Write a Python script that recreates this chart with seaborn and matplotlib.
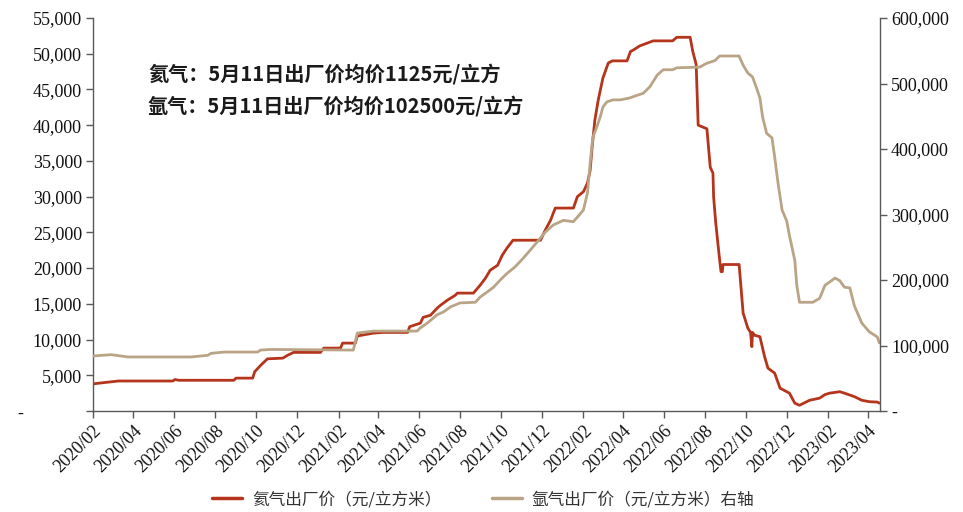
import matplotlib
matplotlib.use("Agg")
import matplotlib.pyplot as plt
import matplotlib.dates as mdates
import matplotlib.ticker as mticker
from matplotlib.lines import Line2D
import seaborn as sns
import pandas as pd

# 氦气出厂价（元/立方米），左轴
he_dates = ['2020-02-01', '2020-02-20', '2020-03-10', '2020-05-30', '2020-06-02', '2020-06-08',
            '2020-08-29', '2020-09-01', '2020-09-26', '2020-09-29', '2020-10-08', '2020-10-18',
            '2020-11-10', '2020-11-17', '2020-11-26', '2021-01-05', '2021-01-10', '2021-02-04',
            '2021-02-07', '2021-02-26', '2021-03-01', '2021-03-25', '2021-04-09', '2021-05-15',
            '2021-05-18', '2021-06-03', '2021-06-07', '2021-06-18', '2021-06-28', '2021-07-03',
            '2021-07-13', '2021-07-25', '2021-07-28', '2021-08-21', '2021-08-31', '2021-09-08',
            '2021-09-15', '2021-09-26', '2021-10-03', '2021-10-10', '2021-10-19', '2021-11-29',
            '2021-12-06', '2021-12-14', '2021-12-21', '2022-01-17', '2022-01-23', '2022-02-01',
            '2022-02-07', '2022-02-11', '2022-02-14', '2022-02-18', '2022-02-23', '2022-03-02',
            '2022-03-10', '2022-03-16', '2022-04-07', '2022-04-12', '2022-04-16', '2022-04-26',
            '2022-05-16', '2022-06-14', '2022-06-20', '2022-07-10', '2022-07-14', '2022-07-19',
            '2022-07-22', '2022-08-04', '2022-08-09', '2022-08-13', '2022-08-14', '2022-08-17',
            '2022-08-22', '2022-08-25', '2022-08-27', '2022-08-28', '2022-09-21', '2022-09-27',
            '2022-10-04', '2022-10-08', '2022-10-10', '2022-10-11', '2022-10-14', '2022-10-22',
            '2022-10-29', '2022-11-03', '2022-11-13', '2022-11-21', '2022-12-05', '2022-12-13',
            '2022-12-20', '2023-01-04', '2023-01-19', '2023-01-27', '2023-02-03', '2023-02-18',
            '2023-02-25', '2023-03-12', '2023-03-23', '2023-04-03', '2023-04-15', '2023-04-18']
he_price = [3800, 4000, 4200, 4200, 4400, 4300,
            4300, 4600, 4600, 5500, 6400, 7300,
            7400, 7800, 8200, 8200, 8800, 8800,
            9500, 9500, 10500, 10900, 11000, 11000,
            11800, 12300, 13100, 13400, 14400, 14800,
            15500, 16200, 16500, 16500, 17600, 18600,
            19700, 20400, 21800, 22800, 23900, 23900,
            25300, 26700, 28400, 28400, 30000, 30700,
            31900, 33700, 37000, 40700, 43500, 46600,
            48700, 49000, 49000, 50300, 50500, 51100,
            51800, 51800, 52300, 52300, 50300, 48500,
            40000, 39500, 34100, 33300, 30000, 26500,
            22000, 19500, 19500, 20500, 20500, 13700,
            11600, 11000, 9000, 11000, 10600, 10400,
            7600, 6000, 5300, 3200, 2500, 1100,
            800, 1500, 1800, 2300, 2500, 2700,
            2500, 2000, 1500, 1300, 1250, 1100]

# 氩气出厂价（元/立方米），右轴
ar_dates = ['2020-02-01', '2020-02-28', '2020-03-24', '2020-06-26', '2020-07-21', '2020-07-26',
            '2020-08-14', '2020-10-03', '2020-10-08', '2020-10-23', '2021-02-23', '2021-03-01',
            '2021-03-25', '2021-05-29', '2021-06-03', '2021-06-13', '2021-06-28', '2021-07-07',
            '2021-07-18', '2021-08-01', '2021-08-24', '2021-08-31', '2021-09-11', '2021-09-20',
            '2021-09-30', '2021-10-10', '2021-10-22', '2021-11-03', '2021-11-14', '2021-11-24',
            '2021-12-06', '2021-12-18', '2022-01-02', '2022-01-17', '2022-01-23', '2022-02-01',
            '2022-02-07', '2022-02-11', '2022-02-15', '2022-02-21', '2022-02-26', '2022-03-02',
            '2022-03-08', '2022-03-17', '2022-03-28', '2022-04-11', '2022-04-22', '2022-05-01',
            '2022-05-11', '2022-05-22', '2022-05-31', '2022-06-14', '2022-06-20', '2022-07-24',
            '2022-08-04', '2022-08-16', '2022-08-23', '2022-09-21', '2022-09-27', '2022-10-04',
            '2022-10-11', '2022-10-17', '2022-10-22', '2022-10-26', '2022-11-01', '2022-11-09',
            '2022-11-13', '2022-11-18', '2022-11-24', '2022-12-01', '2022-12-05', '2022-12-13',
            '2022-12-16', '2022-12-20', '2023-01-09', '2023-01-19', '2023-01-27', '2023-02-03',
            '2023-02-11', '2023-02-18', '2023-02-25', '2023-03-05', '2023-03-12', '2023-03-23',
            '2023-04-03', '2023-04-15', '2023-04-18']
ar_price = [84000, 86000, 82500, 82500, 85000, 88000,
            90000, 90000, 93000, 94000, 93000, 119000,
            122000, 122000, 127000, 134000, 147000, 151000,
            159000, 165000, 166000, 174000, 182000, 189000,
            200000, 210000, 220000, 233000, 246000, 258000,
            273000, 284000, 291000, 289000, 296000, 307000,
            333000, 379000, 418000, 434000, 449000, 464000,
            472000, 475000, 475000, 478000, 482000, 485000,
            495000, 513000, 521000, 521000, 524000, 525000,
            531000, 535000, 542000, 542000, 528000, 516000,
            510000, 493000, 478000, 449000, 424000, 417000,
            388000, 348000, 307000, 290000, 268000, 230000,
            192000, 166000, 166000, 172000, 192000, 197000,
            203000, 199000, 189000, 188000, 160000, 134000,
            121000, 113000, 104000]

note_lines = ['氦气：5月11日出厂价均价1125元/立方', '氩气：5月11日出厂价均价102500元/立方']
legend_labels = ['氦气出厂价（元/立方米）', '氩气出厂价（元/立方米）右轴']

he = pd.DataFrame({'date': pd.to_datetime(he_dates), 'price': he_price})
ar = pd.DataFrame({'date': pd.to_datetime(ar_dates), 'price': ar_price})

red = '#B5341C'
tan = '#B9A486'
cjk = ['Noto Sans CJK SC', 'DejaVu Sans']

sns.set_style('ticks')
plt.rcParams['font.family'] = ['Liberation Serif', 'DejaVu Sans']

fig = plt.figure(figsize=(9.63, 5.12), dpi=100)
ax = fig.add_axes([93 / 963, 1 - 411 / 512, (880 - 93) / 963, (411 - 18) / 512])
ax2 = ax.twinx()

sns.lineplot(data=he, x='date', y='price', ax=ax, color=red, linewidth=2.0)
sns.lineplot(data=ar, x='date', y='price', ax=ax2, color=tan, linewidth=2.0)

ax.set_xlim(pd.Timestamp('2020-02-01'), pd.Timestamp('2023-04-19'))
ax.set_ylim(0, 55000)
ax2.set_ylim(0, 600000)
ax.yaxis.set_major_locator(mticker.MultipleLocator(5000))
ax2.yaxis.set_major_locator(mticker.MultipleLocator(100000))


def fmt_left(v, pos):
    # 会计格式：零值显示为靠左的短横（用不换行空格占位）
    return '-' + '\u00a0' * 13 if v == 0 else f'{v:,.0f}'


def fmt_right(v, pos):
    return '-' if v == 0 else f'{v:,.0f}'


ax.yaxis.set_major_formatter(mticker.FuncFormatter(fmt_left))
ax2.yaxis.set_major_formatter(mticker.FuncFormatter(fmt_right))

ax.xaxis.set_major_locator(mdates.MonthLocator(bymonth=[2, 4, 6, 8, 10, 12]))
ax.xaxis.set_major_formatter(mdates.DateFormatter('%Y/%m'))
for lab in ax.get_xticklabels():
    lab.set_rotation(45)
    lab.set_ha('right')
    lab.set_rotation_mode('anchor')

for a in (ax, ax2):
    a.set_xlabel('')
    a.set_ylabel('')
    a.spines['top'].set_visible(False)
    for s in ('left', 'right', 'bottom'):
        a.spines[s].set_color('#595959')
        a.spines[s].set_linewidth(1.0)
    a.tick_params(axis='both', labelsize=13, length=5, width=1.0, color='#595959',
                  labelcolor='#111111', pad=3)
ax.spines['right'].set_visible(False)
ax2.spines['left'].set_visible(False)
ax2.spines['bottom'].set_visible(False)

fig.text(148 / 963, 1 - 75 / 512, note_lines[0], family=cjk, fontsize=14.5,
         fontweight='bold', color='#1a1a1a', va='center')
fig.text(148 / 963, 1 - 107 / 512, note_lines[1], family=cjk, fontsize=14.5,
         fontweight='bold', color='#1a1a1a', va='center')

handles = [Line2D([], [], color=red, linewidth=2.5), Line2D([], [], color=tan, linewidth=2.5)]
fig.legend(handles, legend_labels, loc='center', bbox_to_anchor=(0.502, 0.024), ncol=2,
           frameon=False, prop={'family': cjk, 'size': 12}, handlelength=1.8,
           handletextpad=0.6, columnspacing=3.0, labelcolor='#333333', borderpad=0.1)

fig.savefig('out.png', dpi=100)
